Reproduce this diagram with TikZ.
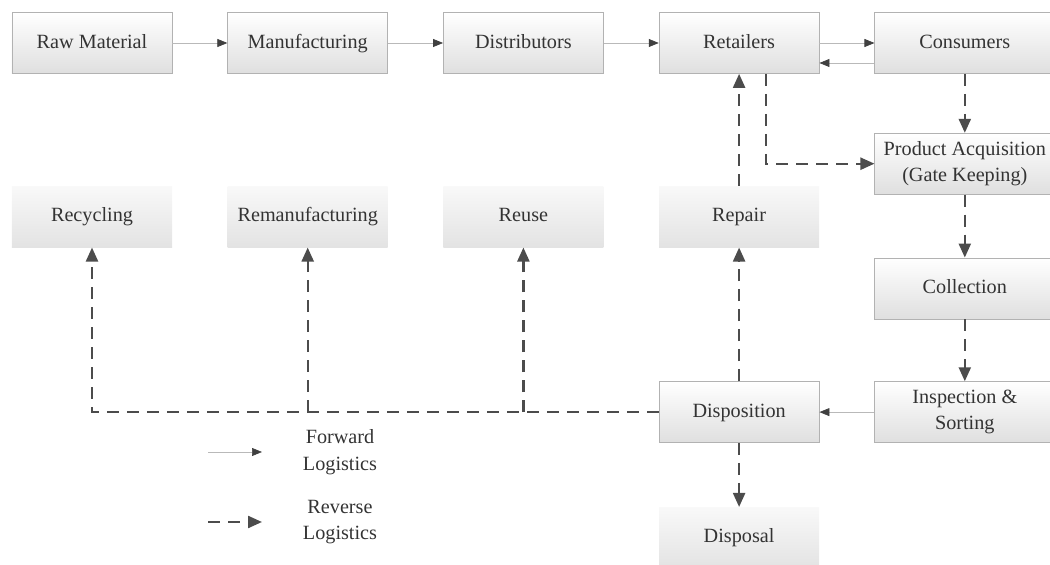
\documentclass[tikz,border=0pt]{standalone}
\usepackage{fontspec}
\setmainfont{Liberation Serif}
\usetikzlibrary{arrows.meta, positioning}
\tikzstyle{stage}=[rectangle, draw=gray!60, top color=white, bottom color=gray!25, text=black!80,
  minimum width=3.2cm, minimum height=1.22cm, align=center, text height=1.7ex, text depth=0.45ex,
  font=\fontsize{11.5}{15}\selectfont]
\tikzstyle{option}=[stage, draw=none, top color=gray!5, bottom color=gray!22]
\tikzstyle{side}=[stage, minimum width=3.6cm]
\tikzstyle{twoline}=[text height={}, text depth={}]
\tikzstyle{forward}=[draw=gray!55, thin, -{Triangle[length=2mm, width=1.6mm, color=black!75]}]
\tikzstyle{reverse}=[draw=black!70, line width=1.3pt, dash pattern=on 0.24cm off 0.16cm,
  -{Triangle[length=2.8mm, width=2.4mm]}]

\begin{document}
\begin{tikzpicture}[node distance=2.24cm and 1.1cm]
    \useasboundingbox (0,0) rectangle (21,-11.3);

    % forward chain
    \node[stage] (raw) at (1.84,-0.86) {Raw Material};
    \node[stage] (manu) [right=of raw]  {Manufacturing};
    \node[stage] (dist) [right=of manu] {Distributors};
    \node[stage] (ret)  [right=of dist] {Retailers};
    \node[side]  (cons) [right=of ret]  {Consumers};

    % reverse chain
    \node[side, twoline] (acq)  [below=1.18cm of cons] {Product Acquisition\\(Gate Keeping)};
    \node[side] (coll) [below=1.26cm of acq]  {Collection};
    \node[side, twoline] (insp) [below=1.24cm of coll] {Inspection \&\\Sorting};
    \node[stage] (disp) [left=of insp] {Disposition};
    \node[option] (disposal) [below=1.28cm of disp] {Disposal};

    % recovery options
    \node[option] (recy)  [below=of raw]  {Recycling};
    \node[option] (reman) [below=of manu] {Remanufacturing};
    \node[option] (reuse) [below=of dist] {Reuse};
    \node[option] (rep)   [below=of ret]  {Repair};

    % legend
    \node[align=center, text=black!80, font=\fontsize{11.5}{15}\selectfont] (fwdtxt) at (6.8,-9.04) {Forward\\Logistics};
    \node[align=center, text=black!80, font=\fontsize{11.5}{15}\selectfont] (revtxt) at (6.8,-10.44) {Reverse\\Logistics};
    \coordinate[left=2.64cm of fwdtxt.center] (fwdfrom);
    \coordinate[left=1.56cm of fwdtxt.center] (fwdto);
    \coordinate[left=2.64cm of revtxt.center] (revfrom);
    \coordinate[left=1.56cm of revtxt.center] (revto);

    \coordinate (j1) at (recy.south |- disp.west);
    \coordinate (j2) at (reman.south |- disp.west);
    \coordinate (j3) at (reuse.south |- disp.west);

    \path[every edge/.style=forward]
      (raw) edge (manu)
      (manu) edge (dist)
      (dist) edge (ret)
      (ret) edge (cons)
      ([yshift=-0.4cm]cons.west) edge ([yshift=-0.4cm]ret.east)
      (insp) edge (disp)
      (fwdfrom) edge (fwdto);

    \path[every edge/.style=reverse]
      (cons) edge (acq)
      (acq) edge (coll)
      (coll) edge (insp)
      (disp) edge (rep)
      (rep) edge (ret)
      (disp) edge (disposal)
      (j2) edge (reman)
      (j3) edge (reuse)
      (revfrom) edge (revto);
    \draw[reverse] ([xshift=0.54cm]ret.south) |- (acq.west);
    \draw[reverse] (disp.west) -- (j1) -- (recy.south);
\end{tikzpicture}
\end{document}
